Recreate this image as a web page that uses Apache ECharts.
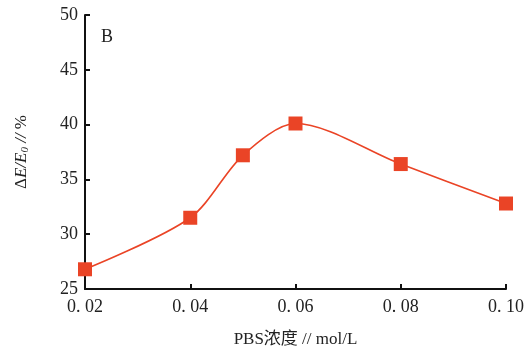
<!DOCTYPE html>
<html>
<head>
<meta charset="utf-8">
<style>
    html, body { margin: 0; padding: 0; background: #fff; }
    #chart { width: 527px; height: 353px; }
</style>
<script src="https://cdn.jsdelivr.net/npm/echarts@6/dist/echarts.min.js"></script>
</head>
<body>
<div id="chart"></div>
<script>
// PBS 浓度 (mol/L) 与 ΔE/E0 (%)
const concentrations = [0.02, 0.04, 0.05, 0.06, 0.08, 0.10];
const deltaE = [26.8, 31.5, 37.2, 40.1, 36.4, 32.8];
const yTicks = { min: 25, max: 50, interval: 5 };
const xTicks = { min: 0.02, max: 0.10, interval: 0.02 };

const serif = '"Liberation Serif", "DejaVu Serif", serif';
const red = '#ea4426';

let myChart = echarts.init(document.getElementById('chart'));
myChart.setOption({
    animation: false,
    grid: { left: 85, right: 21, top: 15, bottom: 61 },
    xAxis: {
        type: 'value',
        min: xTicks.min,
        max: xTicks.max,
        interval: xTicks.interval,
        name: 'PBS浓度 // mol/L',
        nameLocation: 'middle',
        nameGap: 42,
        nameTextStyle: { fontFamily: serif + ', "Noto Sans CJK SC"', fontSize: 17, color: '#222' },
        axisLine: { lineStyle: { color: '#111', width: 2 } },
        axisTick: { inside: true, length: 5, lineStyle: { color: '#111', width: 2 } },
        axisLabel: {
            margin: 9,
            fontFamily: serif,
            fontSize: 18,
            color: '#222',
            formatter: v => v.toFixed(2).replace('.', '. ')
        },
        splitLine: { show: false }
    },
    yAxis: {
        type: 'value',
        min: yTicks.min,
        max: yTicks.max,
        interval: yTicks.interval,
        name: '{n|Δ}{i|E/E}{s|0}{i| //}{n| %}',
        nameLocation: 'middle',
        nameGap: 54,
        nameTextStyle: {
            rich: {
                n: { fontFamily: serif, fontSize: 17, color: '#222' },
                i: { fontFamily: serif, fontSize: 17, fontStyle: 'italic', color: '#222' },
                s: { fontFamily: serif, fontSize: 11, fontStyle: 'italic', color: '#222', verticalAlign: 'bottom', padding: [8, 0, 0, 0] }
            }
        },
        axisLine: { show: true, lineStyle: { color: '#111', width: 2 } },
        axisTick: { show: true, inside: true, length: 5, lineStyle: { color: '#111', width: 2 } },
        axisLabel: { margin: 7, fontFamily: serif, fontSize: 18, color: '#222' },
        splitLine: { show: false }
    },
    graphic: [{
        type: 'text',
        left: 101,
        top: 28,
        style: { text: 'B', font: '18px ' + serif, fill: '#222' }
    }],
    series: [{
        type: 'line',
        data: concentrations.map((c, i) => [c, deltaE[i]]),
        smooth: 0.3,
        symbol: 'rect',
        symbolSize: 14,
        lineStyle: { color: red, width: 1.6 },
        itemStyle: { color: red }
    }]
});
</script>
</body>
</html>
